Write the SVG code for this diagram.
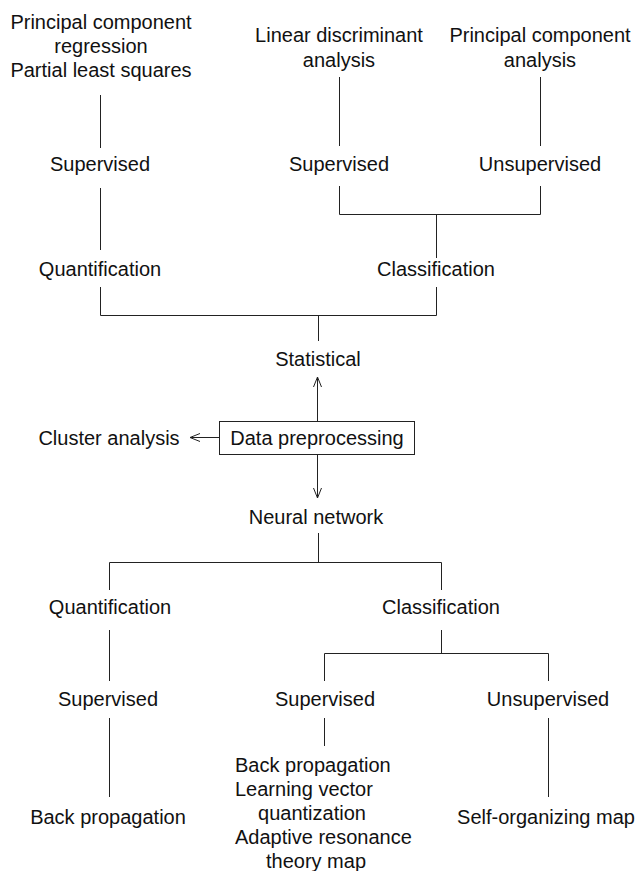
<svg xmlns="http://www.w3.org/2000/svg" width="639" height="871" viewBox="0 0 639 871">
  <style>
    text { font-family: "Liberation Sans", Arial, sans-serif; font-size: 20px; fill: #111; }
    .c { text-anchor: middle; }
    .s { text-anchor: start; }
    .ln { stroke: #222; stroke-width: 1; fill: none; }
  </style>
  <defs>
    <marker id="open" viewBox="0 0 10 10" refX="10" refY="5" markerWidth="10" markerHeight="10" markerUnits="userSpaceOnUse" orient="auto">
      <path d="M0,1 L10,5 L0,9" fill="none" stroke="#222" stroke-width="1"/>
    </marker>
  </defs>
  <rect width="639" height="871" fill="#fff"/>

  <!-- connectors -->
  <g id="connectors" class="ln">
    <!-- statistical branch -->
    <line x1="100.5" y1="95" x2="100.5" y2="148"/>
    <line x1="100.5" y1="188" x2="100.5" y2="250"/>
    <line x1="339.5" y1="77" x2="339.5" y2="146"/>
    <line x1="540.5" y1="77" x2="540.5" y2="146"/>
    <polyline points="339.5,186 339.5,214.5 540.5,214.5 540.5,186"/>
    <line x1="436.5" y1="214.5" x2="436.5" y2="258"/>
    <polyline points="100.5,287 100.5,315.5 436.5,315.5 436.5,287"/>
    <line x1="318.5" y1="315.5" x2="318.5" y2="341"/>
    <!-- from data preprocessing -->
    <line x1="317.5" y1="421" x2="317.5" y2="377" marker-end="url(#open)"/>
    <line x1="219" y1="437.5" x2="190" y2="437.5" marker-end="url(#open)"/>
    <line x1="317.5" y1="455" x2="317.5" y2="498" marker-end="url(#open)"/>
    <!-- neural network branch -->
    <line x1="318.5" y1="533" x2="318.5" y2="562.5"/>
    <polyline points="109.5,590 109.5,562.5 441.5,562.5 441.5,590"/>
    <line x1="109.5" y1="630" x2="109.5" y2="681"/>
    <line x1="441.5" y1="630" x2="441.5" y2="653.5"/>
    <polyline points="324.5,681 324.5,653.5 548.5,653.5 548.5,681"/>
    <line x1="109.5" y1="718" x2="109.5" y2="797"/>
    <line x1="324.5" y1="718" x2="324.5" y2="746"/>
    <line x1="548.5" y1="718" x2="548.5" y2="797"/>
  </g>

  <!-- statistical methods -->
  <g id="pcr-pls">
    <text class="c" x="101" y="29">Principal component</text>
    <text class="c" x="101" y="53">regression</text>
    <text class="c" x="101" y="77">Partial least squares</text>
  </g>
  <g id="lda">
    <text class="c" x="339" y="42">Linear discriminant</text>
    <text class="c" x="339" y="67">analysis</text>
  </g>
  <g id="pca">
    <text class="c" x="540" y="42">Principal component</text>
    <text class="c" x="540" y="67">analysis</text>
  </g>
  <g id="stat-quant-supervised"><text class="c" x="100" y="171">Supervised</text></g>
  <g id="stat-class-supervised"><text class="c" x="339" y="171">Supervised</text></g>
  <g id="stat-class-unsupervised"><text class="c" x="540" y="171">Unsupervised</text></g>
  <g id="stat-quantification"><text class="c" x="100" y="276">Quantification</text></g>
  <g id="stat-classification"><text class="c" x="436" y="276">Classification</text></g>
  <g id="statistical"><text class="c" x="318" y="366">Statistical</text></g>

  <!-- centre -->
  <g id="data-preprocessing">
    <rect x="219.5" y="421.5" width="195" height="33" fill="#fff" stroke="#222" stroke-width="1"/>
    <text class="c" x="317" y="445">Data preprocessing</text>
  </g>
  <g id="cluster-analysis"><text class="c" x="109" y="445">Cluster analysis</text></g>
  <g id="neural-network"><text class="c" x="316" y="524">Neural network</text></g>

  <!-- neural network methods -->
  <g id="nn-quantification"><text class="c" x="110" y="614">Quantification</text></g>
  <g id="nn-classification"><text class="c" x="441" y="614">Classification</text></g>
  <g id="nn-quant-supervised"><text class="c" x="108" y="706">Supervised</text></g>
  <g id="nn-class-supervised"><text class="c" x="325" y="706">Supervised</text></g>
  <g id="nn-class-unsupervised"><text class="c" x="548" y="706">Unsupervised</text></g>
  <g id="nn-back-propagation"><text class="c" x="108" y="824">Back propagation</text></g>
  <g id="nn-supervised-methods">
    <text class="s" x="235" y="772">Back propagation</text>
    <text class="s" x="235" y="796">Learning vector</text>
    <text class="c" x="312" y="820">quantization</text>
    <text class="s" x="235" y="844">Adaptive resonance</text>
    <text class="c" x="316" y="868">theory map</text>
  </g>
  <g id="self-organizing-map"><text class="c" x="546" y="824">Self-organizing map</text></g>
</svg>
